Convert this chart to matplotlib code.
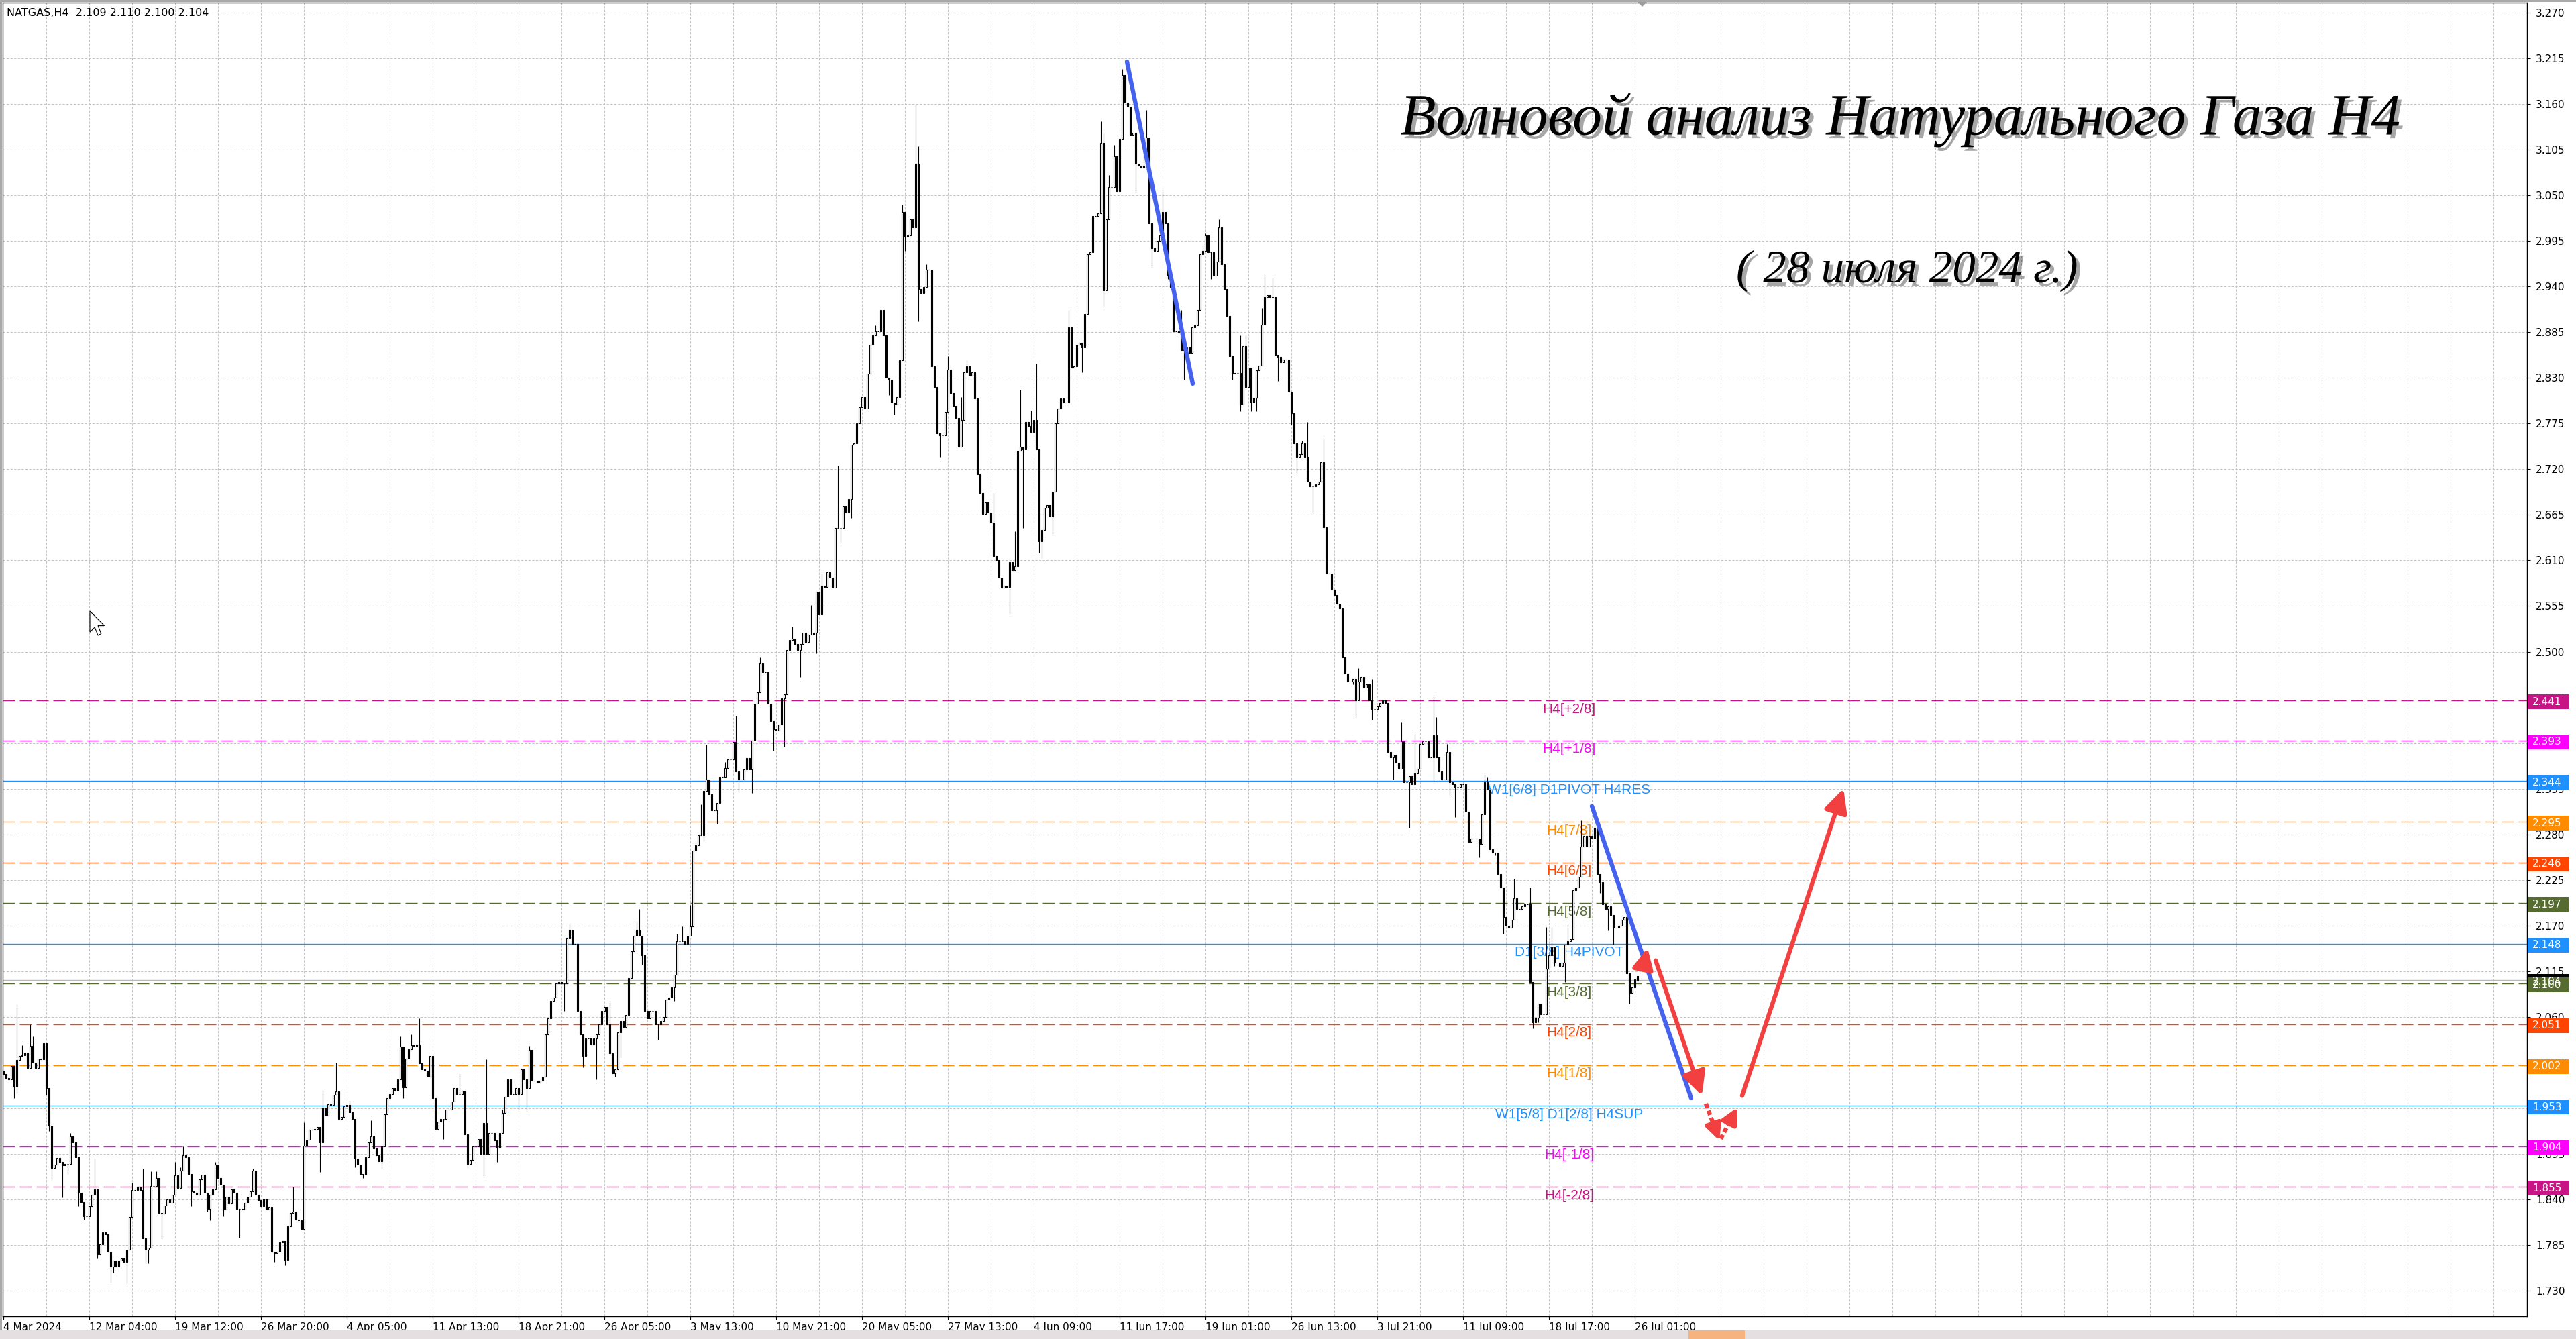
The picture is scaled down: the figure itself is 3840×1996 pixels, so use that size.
import matplotlib
matplotlib.use("Agg")
import matplotlib.pyplot as plt
import matplotlib.patheffects as pe
from matplotlib.patches import Rectangle, Polygon, FancyArrowPatch
import numpy as np

plt.rcParams['lines.scale_dashes'] = False
plt.rcParams['font.family'] = ['DejaVu Sans']

# ---------------- DATA ----------------
closes_mar = [1.991,1.986,1.985,2.001,1.976,2.008,2.013,2.014,2.017,1.998,2.025,2.005,1.998,2.010,2.009,2.028,
 1.974,1.929,1.878,1.882,1.890,1.885,1.881,1.883,1.883,1.916,1.909,1.891,1.848,1.837,1.820,1.820,
 1.832,1.846,1.852,1.774,1.786,1.800,1.798,1.777,1.759,1.766,1.759,1.766,1.769,1.765,1.779,1.819,
 1.851,1.851,1.855,1.851,1.793,1.779,1.782,1.856,1.856,1.866,1.824,1.823,1.833,1.840,1.836,1.846,
 1.869,1.854,1.875,1.893,1.891,1.871,1.850,1.848,1.846,1.864,1.870,1.848,1.829,1.846,1.852,1.882,
 1.866,1.858,1.828,1.843,1.835,1.852,1.848,1.829,1.829,1.828,1.836,1.843,1.850,1.875,1.846,1.839,
 1.832,1.841,1.828,1.831,1.777,1.775,1.777,1.788,1.790,1.767,1.808,1.824,1.825,1.816,1.815,1.804,
 1.905,1.912,1.924,1.924,1.925,1.927,1.909,1.951,1.941,1.955,1.954,1.966,1.970,1.937,1.939,1.952,
 1.954,1.945,1.937,1.889,1.882,1.871,1.870,1.891,1.909,1.916,1.901,1.893,1.886,1.904,1.943,1.962,
 1.967,1.974,1.971,1.985,2.024,1.975,2.010,2.021,2.026,2.025]

closes_apr = [2.027,2.004,1.997,1.995,1.988,2.013,1.962,1.925,1.934,1.937,1.937,1.948,1.948,1.958,1.974,1.967,
 1.967,1.971,1.918,1.883,1.888,1.904,1.904,1.913,1.895,1.932,1.895,1.920,1.920,1.911,1.902,1.920,
 1.944,1.964,1.985,1.967,1.967,1.974,1.967,1.997,1.985,1.974,2.020,1.983,1.983,1.981,1.983,1.988,
 2.039,2.058,2.079,2.083,2.100,2.102,2.100,2.100,2.155,2.165,2.148,2.148,2.067,2.039,2.013,2.034,
 2.034,2.027,2.034,2.039,2.051,2.067,2.072,2.051,2.016,1.992,1.997,2.041,2.055,2.048,2.062,2.107,
 2.139,2.158,2.165,2.158,2.134,2.067,2.058,2.067,2.067,2.051,2.051,2.055,2.060,2.081,2.083,2.095,
 2.111,2.151,2.151,2.151,2.148,2.158,2.169,2.260,2.267,2.279,2.279,2.332,2.346,2.328,2.309,2.309,
 2.318,2.349,2.349,2.360,2.370,2.370,2.391,2.356,2.346,2.346,2.358,2.372,2.358,2.393,2.437,2.451,
 2.486,2.475,2.475,2.437,2.416,2.407,2.405,2.412,2.444,2.449,2.502,2.514,2.516,2.509,2.502,2.509,
 2.523,2.512,2.521,2.521,2.523,2.572]

closes_may = [2.545,2.580,2.578,2.596,2.589,2.577,2.649,2.649,2.649,2.675,2.668,2.684,2.749,2.751,2.775,2.795,
 2.807,2.793,2.835,2.870,2.881,2.886,2.886,2.912,2.881,2.830,2.828,2.800,2.798,2.807,2.851,3.030,
 3.000,3.002,3.021,3.011,3.088,2.937,2.932,2.939,2.960,2.960,2.844,2.819,2.763,2.761,2.761,2.789,
 2.840,2.812,2.796,2.782,2.747,2.779,2.837,2.844,2.833,2.837,2.805,2.714,2.691,2.666,2.680,2.668,
 2.656,2.615,2.610,2.589,2.577,2.580,2.578,2.608,2.598,2.603,2.742,2.747,2.744,2.777,2.772,2.765,
 2.779,2.744,2.633,2.647,2.673,2.677,2.663,2.693,2.775,2.793,2.805,2.800,2.800,2.891,2.842,2.844,
 2.870,2.872,2.867,2.907,2.979,2.981,3.025,3.025,3.028,3.113,2.935,3.021,3.060,3.060,3.097,3.055,
 3.118,3.195,3.162,3.157,3.123,3.125,3.088,3.086,3.083,3.086,3.120,3.016,2.986,2.983,2.995,3.002,
 3.030,3.016,2.953,2.939,2.886,2.886,2.884,2.863,2.865,2.867,2.860,2.891,2.893,2.912,2.979,2.983,
 3.002,2.981,2.981,2.953,2.970,3.011,2.967,2.937,2.905,2.856,2.835]

closes_jun = [2.836,2.836,2.798,2.868,2.819,2.842,2.800,2.806,2.839,2.845,2.894,2.927,2.930,2.927,2.928,2.858,
 2.855,2.849,2.852,2.852,2.813,2.787,2.751,2.735,2.738,2.751,2.735,2.705,2.699,2.699,2.702,2.705,
 2.728,2.650,2.594,2.594,2.575,2.568,2.558,2.552,2.493,2.474,2.464,2.464,2.467,2.441,2.464,2.470,
 2.457,2.461,2.441,2.431,2.431,2.434,2.438,2.441,2.438,2.379,2.373,2.376,2.366,2.359,2.392,2.343,
 2.343,2.350,2.340,2.353,2.359,2.389,2.392,2.392,2.373,2.373,2.399,2.373,2.356,2.346,2.346,2.379,
 2.343,2.340,2.337,2.337,2.340,2.340,2.307,2.271,2.275,2.275,2.275,2.268,2.304,2.343,2.334,2.262,
 2.258,2.258,2.232,2.216,2.180,2.170,2.167,2.177,2.203,2.190,2.190,2.193,2.196,2.196,2.102,2.053,
 2.059,2.076,2.063,2.063,2.118,2.134,2.144,2.125,2.125,2.121,2.125,2.147,2.151,2.154,2.213,2.216,
 2.229,2.265,2.278,2.265,2.278,2.275,2.288,2.232,2.222,2.196,2.190,2.193,2.183,2.167,2.167,2.170,
 2.177,2.180,2.112,2.089,2.095,2.105,2.104]

first_open = 1.995
last_bar_ohlc = (2.109, 2.110, 2.100, 2.104)

high_marks = {4:1.99,5:2.075,7:2.026,10:2.051,11:2.036,25:1.920,34:1.890,48:1.860,52:1.877,55:1.874,57:1.874,
 64:1.885,66:1.879,67:1.904,79:1.885,93:1.877,108:1.855,112:1.933,119:1.972,124:2.005,129:1.959,137:1.935,
 148:2.036,152:2.039,155:2.058,170:1.992,180:2.009,186:1.948,196:2.025,211:2.172,226:2.079,236:2.174,
 237:2.190,251:2.160,253:2.169,256:2.195,258:2.272,260:2.316,262:2.388,269:2.367,273:2.423,282:2.493,
 294:2.530,301:2.556,305:2.594,311:2.724,325:2.893,335:3.039,340:3.160,341:3.109,344:2.967,352:2.856,
 357:2.807,359:2.851,369:2.691,377:2.645,379:2.816,383:2.791,385:2.847,397:2.912,404:2.944,409:3.139,
 410:3.125,412:3.074,414:3.111,417:3.202,420:3.153,425:3.109,426:3.153,432:3.055,439:2.912,447:2.990,
 448:3.004,453:3.021,461:2.881,463:2.881,469:2.914,470:2.954,473:2.951,484:2.754,486:2.777,492:2.757,
 505:2.480,510:2.467,521:2.415,526:2.402,533:2.448,534:2.421,538:2.389,552:2.352,553:2.349,563:2.226,
 569:2.216,575:2.168,577:2.168,583:2.171,588:2.297,590:2.294,593:2.294,599:2.203,605:2.203}

low_marks = {4:1.962,5:1.968,16:1.966,17:1.922,18:1.864,22:1.842,24:1.871,28:1.832,30:1.816,35:1.769,
 40:1.740,41:1.752,46:1.739,53:1.763,54:1.763,59:1.792,70:1.832,76:1.825,77:1.815,82:1.820,88:1.794,
 101:1.765,105:1.761,118:1.873,131:1.879,134:1.866,141:1.877,149:1.962,164:1.913,173:1.878,179:1.867,
 184:1.885,192:1.948,195:1.946,209:2.067,216:1.999,221:1.985,228:1.988,230:2.011,238:2.123,244:2.032,
 250:2.079,261:2.272,266:2.293,274:2.332,279:2.330,287:2.381,291:2.386,297:2.470,303:2.498,312:2.631,
 316:2.661,330:2.809,332:2.786,336:2.983,341:2.898,349:2.735,375:2.545,380:2.649,386:2.619,387:2.612,
 391:2.642,402:2.837,410:2.916,422:3.053,428:2.963,434:2.949,440:2.828,450:2.949,458:2.828,461:2.790,
 465:2.790,467:2.790,475:2.826,480:2.774,482:2.715,488:2.666,503:2.461,504:2.421,510:2.418,518:2.346,
 524:2.288,527:2.363,533:2.343,539:2.327,541:2.301,550:2.252,556:2.255,559:2.160,570:2.046,572:2.053,
 578:2.121,582:2.102,595:2.209,598:2.164,600:2.147,606:2.076}

date_labels = ['4 Mar 2024','12 Mar 04:00','19 Mar 12:00','26 Mar 20:00','4 Apr 05:00','11 Apr 13:00',
 '18 Apr 21:00','26 Apr 05:00','3 May 13:00','10 May 21:00','20 May 05:00','27 May 13:00','4 Jun 09:00',
 '11 Jun 17:00','19 Jun 01:00','26 Jun 13:00','3 Jul 21:00','11 Jul 09:00','18 Jul 17:00','26 Jul 01:00']

price_ticks = [3.270,3.215,3.160,3.105,3.050,2.995,2.940,2.885,2.830,2.775,2.720,2.665,2.610,2.555,2.500,
 2.445,2.390,2.335,2.280,2.225,2.170,2.115,2.060,2.005,1.950,1.895,1.840,1.785,1.730]

level_values = [2.441,2.393,2.344,2.295,2.246,2.197,2.148,2.100,2.051,2.002,1.953,1.904,1.855]
level_names = ['H4[+2/8]','H4[+1/8]','W1[6/8] D1PIVOT H4RES','H4[7/8]','H4[6/8]','H4[5/8]',
 'D1[3/8] H4PIVOT','H4[3/8]','H4[2/8]','H4[1/8]','W1[5/8] D1[2/8] H4SUP','H4[-1/8]','H4[-2/8]']
level_colors = ['#C71585','#FF00FF','#1E90FF','#FF8C00','#FF4500','#556B2F','#1E90FF','#556B2F',
 '#FF4500','#FF8C00','#1E90FF','#FF00FF','#C71585']
level_solid = [False,False,True,False,False,False,True,False,False,False,True,False,False]
bid_price = 2.104

# drawn analysis (bar index, price)
blue_wave_1 = ([418.75, 443.25], [3.211, 2.823])
blue_wave_2 = ([592.0, 629.0], [2.314, 1.962])
red_up_small = ([611.0, 612.75], [2.117, 2.143])
red_down = ([615.75, 633.0], [2.128, 1.965])
red_dash_down = ([634.5, 639.5], [1.9555, 1.911])
red_dash_up = ([640.0, 646.25], [1.913, 1.951])
red_up_long = ([648.0, 685.75], [1.965, 2.335])

title_text = 'Волновой анализ Натурального Газа Н4'
subtitle_text = '( 28 июля 2024 г.)'
header_text = 'NATGAS,H4  2.109 2.110 2.100 2.104'

# ---------------- FIGURE ----------------
W, H, DPI = 3840, 1996, 100
fig = plt.figure(figsize=(W / DPI, H / DPI), dpi=DPI, facecolor='white')
AX_L, AX_R, AX_T, AX_B = 4, 3767, 4, 1962
PX_TOP, PX_BOT, P_TOP, P_BOT = 19.0, 1924.0, 3.270, 1.730
PPU = (PX_BOT - PX_TOP) / (P_TOP - P_BOT)
ax = fig.add_axes([AX_L / W, 1 - AX_B / H, (AX_R - AX_L) / W, (AX_B - AX_T) / H])
ax.set_ylim(P_BOT - (AX_B - PX_BOT) / PPU, P_TOP + (PX_TOP - AX_T) / PPU)
ax.set_xlim((AX_L - 5) / 4.0, (AX_R - 5) / 4.0)
ax.set_facecolor('white')
for s in ax.spines.values():
    s.set_color('black'); s.set_linewidth(1.0)

def ypx(p):
    return PX_TOP + (P_TOP - p) * PPU

closes = np.array(closes_mar + closes_apr + closes_may + closes_jun)
n = len(closes)
opens = np.concatenate([[first_open], closes[:-1]])
opens[-1], _, _, closes[-1] = last_bar_ohlc
highs = np.maximum(opens, closes)
lows = np.minimum(opens, closes)
for k, v in high_marks.items():
    highs[k] = max(highs[k], v)
for k, v in low_marks.items():
    lows[k] = min(lows[k], v)
highs[-1] = max(highs[-1], last_bar_ohlc[1]); lows[-1] = min(lows[-1], last_bar_ohlc[2])
x = np.arange(n)

# grid
gcol = '#c4c4c4'
for t in price_ticks:
    ax.axhline(t, color=gcol, lw=0.75, ls=(0, (2.4, 1.6)), zorder=1)
for b in range(16, 941, 16):
    ax.axvline(b, color=gcol, lw=0.75, ls=(0, (2.4, 1.6)), zorder=1)

# levels
for v, nm, c, solid in zip(level_values, level_names, level_colors, level_solid):
    ax.axhline(v, color=c, lw=1.0, ls='-' if solid else (0, (13, 5)), zorder=1.5)
    ax.text(583.5, v - 3.5 / PPU, nm, color=c, fontsize=15, family='Liberation Sans',
            ha='center', va='top', zorder=2.5)
ax.axhline(bid_price, color='#b8b8b8', lw=1.0, zorder=1.4)

# candles
bw = 0.62
ax.vlines(x, lows, highs, color='black', lw=0.8, zorder=3)
bull = closes >= opens
ax.bar(x[bull], (closes - opens)[bull], bottom=opens[bull], width=bw, color='white',
       edgecolor='black', lw=0.8, zorder=3.2)
ax.bar(x[~bull], (opens - closes)[~bull], bottom=closes[~bull], width=bw, color='black',
       edgecolor='black', lw=0.8, zorder=3.2)

# analysis lines
BLUE, RED = '#4462EE', '#F23F3F'
ax.plot(*blue_wave_1, color=BLUE, lw=4.6, solid_capstyle='round', zorder=4)
ax.plot(*blue_wave_2, color=BLUE, lw=4.6, solid_capstyle='round', zorder=4)

def arrow(seg, dashed=False, scale=25):
    (x0, x1), (y0, y1) = seg
    if dashed:
        f = 0.62
        xm, ym = x0 + (x1 - x0) * f, y0 + (y1 - y0) * f
        ax.plot([x0, xm], [y0, ym], color=RED, lw=4.6, ls=(0, (5, 3)), solid_capstyle='butt', zorder=4)
        x0, y0 = xm + (x1 - x0) * 0.06, ym + (y1 - y0) * 0.06
    a = FancyArrowPatch((x0, y0), (x1, y1), arrowstyle='-|>,head_length=0.85,head_width=0.42',
                        mutation_scale=scale, color=RED, lw=4.6, shrinkA=0, shrinkB=0, zorder=4)
    ax.add_patch(a)

arrow(red_up_small, scale=22)
arrow(red_down)
arrow(red_dash_down, dashed=True, scale=17)
arrow(red_dash_up, dashed=True, scale=17)
arrow(red_up_long)

# axes ticks
ax.yaxis.tick_right()
ax.set_yticks(price_ticks)
ax.set_yticklabels(['%.3f' % t for t in price_ticks])
ax.tick_params(axis='y', direction='out', length=3.5, width=0.8, pad=6, labelsize=11, colors='black')
ax.set_xticks(list(range(0, 32 * len(date_labels), 32)))
ax.set_xticklabels(date_labels)
ax.tick_params(axis='x', direction='out', length=3.5, width=0.8, pad=3, labelsize=11)
for lb in ax.get_xticklabels():
    lb.set_horizontalalignment('left')

# right price boxes
def fig_rect(x0, y0, w, h, color, z=5):
    fig.add_artist(Rectangle((x0 / W, 1 - (y0 + h) / H), w / W, h / H, transform=fig.transFigure,
                             facecolor=color, edgecolor='none', zorder=z))

box_items = [(bid_price, 'black')] + list(zip(level_values, level_colors))
for v, c in box_items:
    yc = ypx(v) + 2
    fig_rect(3768, yc - 11, 61, 22, c)
    fig.text(3775 / W, 1 - yc / H, '%.3f' % v, color='white', fontsize=11, ha='left', va='center', zorder=6)

# header / title
fig.text(10 / W, 1 - 19 / H, header_text, fontsize=11.5, ha='left', va='center', color='black')
shadow = [pe.SimplePatchShadow(offset=(4, -4), shadow_rgbFace='black', alpha=0.35), pe.Normal()]
t1 = fig.text(2833 / W, 1 - 179 / H, title_text, fontsize=60, family='Liberation Serif', style='italic',
              ha='center', va='center', color='black', path_effects=shadow)
t2 = fig.text(2843 / W, 1 - 404 / H, subtitle_text, fontsize=40, family='Liberation Serif', style='italic',
              ha='center', va='center', color='black', path_effects=shadow)
fig.canvas.draw()
r = fig.canvas.get_renderer()
for t, target in ((t1, 1493.0), (t2, 509.0)):
    w = t.get_window_extent(r).width
    t.set_fontsize(t.get_fontsize() * target / w)

# window chrome
fig_rect(0, 0, W, 3, '#a9a9a9', z=7)
fig_rect(0, 0, 3, H, '#a9a9a9', z=7)
fig_rect(0, 1983, W, 13, '#e5dfe1', z=7)
fig_rect(2517, 1983, 84, 13, '#f6b27f', z=7.5)
fig.add_artist(Polygon([(2441 / W, 1 - 3 / H), (2455 / W, 1 - 3 / H), (2448 / W, 1 - 10 / H)],
                       closed=True, transform=fig.transFigure, facecolor='#9a9a9a', edgecolor='none', zorder=8))
cur = np.array([(0, 0), (0, 26), (6, 20), (10, 30), (14, 28), (10, 18), (18, 18)]) * 1.2 + np.array([134, 911])
fig.add_artist(Polygon([(px / W, 1 - py / H) for px, py in cur], closed=True, transform=fig.transFigure,
                       facecolor='white', edgecolor='black', lw=0.8, zorder=8))

fig.savefig('out.png', dpi=DPI, facecolor='white')
